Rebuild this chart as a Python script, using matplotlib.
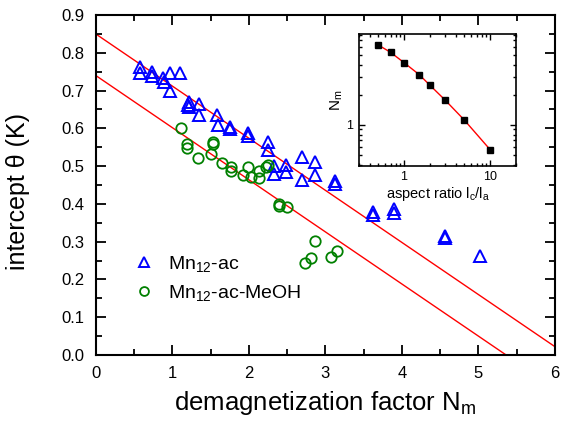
import matplotlib
matplotlib.use("Agg")
import matplotlib.pyplot as plt
import numpy as np
from matplotlib.ticker import MultipleLocator, NullFormatter, FuncFormatter

plt.rcParams['font.family'] = ['Liberation Sans', 'DejaVu Sans']
plt.rcParams['mathtext.fontset'] = 'custom'
plt.rcParams['mathtext.rm'] = 'Liberation Sans'
plt.rcParams['mathtext.it'] = 'Liberation Sans:italic'

# ---- data ----
ac_N = [0.585, 0.585, 0.73, 0.73, 0.88, 0.89, 0.97, 0.97, 1.10, 1.22, 1.21, 1.22,
        1.35, 1.35, 1.59, 1.60, 1.75, 1.76, 1.99, 1.99, 2.25, 2.25, 2.33, 2.33,
        2.48, 2.48, 2.69, 2.69, 2.87, 2.87, 3.12, 3.12, 3.62, 3.62, 3.90, 3.90,
        4.56, 4.56, 5.02]
ac_theta = [0.762, 0.746, 0.750, 0.738, 0.732, 0.722, 0.746, 0.700, 0.746, 0.671, 0.662, 0.657,
            0.664, 0.635, 0.635, 0.609, 0.603, 0.597, 0.587, 0.581, 0.563, 0.543, 0.500, 0.479,
            0.502, 0.485, 0.524, 0.463, 0.511, 0.476, 0.460, 0.453, 0.379, 0.371, 0.386, 0.375,
            0.315, 0.311, 0.262]

meoh_N = [1.11, 1.19, 1.19, 1.34, 1.50, 1.53, 1.53, 1.65, 1.77, 1.77, 1.93, 1.99, 2.03,
          2.13, 2.13, 2.23, 2.25, 2.39, 2.39, 2.50, 2.74, 2.81, 2.87, 3.08, 3.15]
meoh_theta = [0.600, 0.558, 0.549, 0.521, 0.531, 0.565, 0.558, 0.507, 0.499, 0.487, 0.477,
              0.498, 0.470, 0.487, 0.468, 0.498, 0.503, 0.401, 0.395, 0.392, 0.243, 0.256,
              0.303, 0.260, 0.276]

# linear fits: theta = intercept + slope * N
fit_intercepts = [0.85, 0.74]
fit_slope = -0.138
fit_N_range = [0.0, 6.0]

# inset: demagnetization factor vs aspect ratio
aspect = [0.5, 0.7, 1.0, 1.5, 2.0, 3.0, 5.0, 10.0]
Nm = [6.31, 5.30, 4.19, 3.18, 2.49, 1.77, 1.12, 0.565]

# ---- figure ----
fig = plt.figure(figsize=(5.67, 4.34), dpi=100)
ax = fig.add_axes([0.1688, 0.182, 0.810, 0.7834])

xf = np.array(fit_N_range)
for a in fit_intercepts:
    ax.plot(xf, a + fit_slope * xf, color='#ff0000', lw=1.0, zorder=1)

ax.plot(ac_N, ac_theta, linestyle='none', marker='^', ms=8.8, mfc='none',
        mec='#0000ff', mew=1.4, label='Mn$_\\mathregular{12}$-ac', zorder=3)
ax.plot(meoh_N, meoh_theta, linestyle='none', marker='o', ms=7.5, mfc='none',
        mec='#008000', mew=1.3, label='Mn$_\\mathregular{12}$-ac-MeOH', zorder=3)

ax.set_xlim(0, 6)
ax.set_ylim(0, 0.9)
ax.xaxis.set_major_locator(MultipleLocator(1))
ax.xaxis.set_minor_locator(MultipleLocator(0.5))
ax.yaxis.set_major_locator(MultipleLocator(0.1))
ax.yaxis.set_minor_locator(MultipleLocator(0.05))
ax.xaxis.set_major_formatter(FuncFormatter(lambda v, p: f"{v:.0f}"))
ax.yaxis.set_major_formatter(FuncFormatter(lambda v, p: f"{v:.1f}"))
ax.tick_params(which='both', direction='in', top=True, right=True, width=1.3)
ax.tick_params(which='major', length=7, labelsize=12, pad=8)
ax.tick_params(which='minor', length=4)
for s in ax.spines.values():
    s.set_linewidth(1.5)

ax.set_xlabel('demagnetization factor N$_\\mathregular{m}$', fontsize=18.5, labelpad=6)
ax.set_ylabel('intercept \u03b8 (K)', fontsize=18, labelpad=8)
ax.yaxis.set_label_coords(-0.142, 0.48)

leg = ax.legend(loc='upper left', bbox_to_anchor=(0.062, 0.327), frameon=False,
                fontsize=14, handlelength=1.0, handletextpad=0.75,
                borderpad=0.0, labelspacing=0.5, markerscale=0.85)

# ---- inset ----
ins = fig.add_axes([359/567, 1 - 165.7/434, (516 - 359)/567, (165.7 - 34)/434])
ins.plot(aspect, Nm, color='#ff0000', lw=1.0, zorder=2)
ins.plot(aspect, Nm, linestyle='none', marker='s', ms=4.2, color='black', zorder=3)
ins.set_xscale('log')
ins.set_yscale('log')
ins.set_xlim(0.3, 20)
ins.set_ylim(0.39, 8.1)
plain = FuncFormatter(lambda v, p: f"{v:g}")
ins.xaxis.set_major_formatter(plain)
ins.yaxis.set_major_formatter(plain)
ins.xaxis.set_minor_formatter(NullFormatter())
ins.yaxis.set_minor_formatter(NullFormatter())
ins.tick_params(which='both', direction='in', top=True, right=True, width=1.0)
ins.tick_params(which='major', length=4.5, labelsize=9, pad=4)
ins.tick_params(which='minor', length=2.5)
for s in ins.spines.values():
    s.set_linewidth(1.2)
ins.set_xlabel('aspect ratio l$_\\mathregular{c}$/l$_\\mathregular{a}$', fontsize=10.5, labelpad=1)
ins.set_ylabel('N$_\\mathregular{m}$', fontsize=11, labelpad=1)

fig.savefig('out.png', dpi=100)
